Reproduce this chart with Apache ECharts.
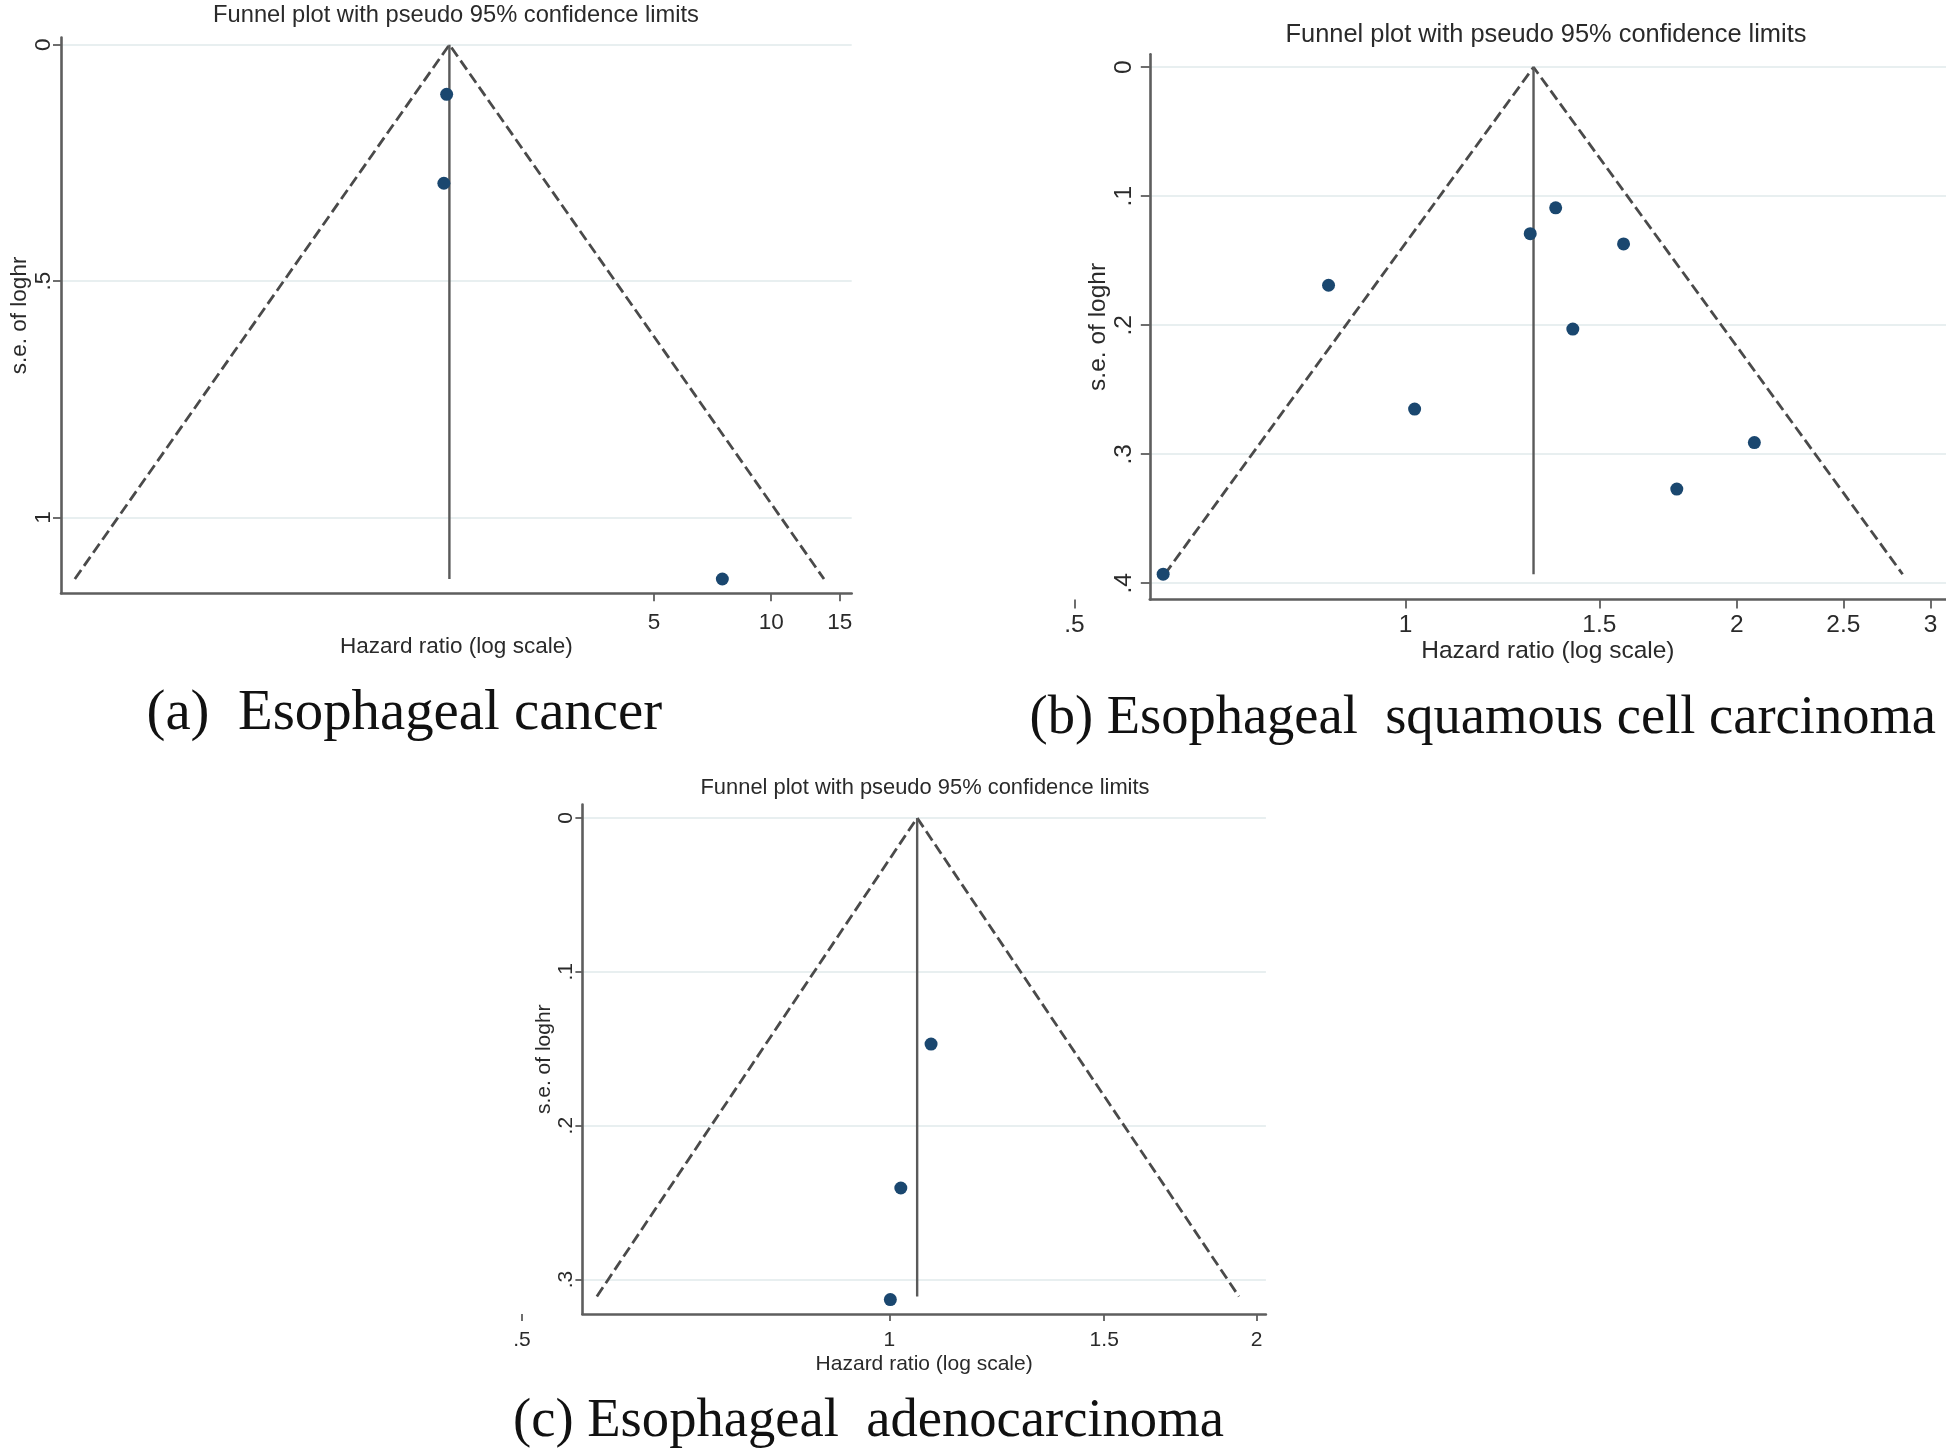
<!DOCTYPE html>
<html>
<head>
<meta charset="utf-8">
<script src="https://cdn.jsdelivr.net/npm/echarts@6/dist/echarts.min.js"></script>
<style>
html,body{margin:0;padding:0;background:#ffffff;}
#c{width:1946px;height:1455px;}
</style>
</head>
<body>
<div id="c"></div>
<script>
// ---------- Data ----------
// (a) Esophageal cancer
const aHR = [1.468, 1.444, 7.49];
const aSE = [0.105, 0.293, 1.13];
const aPooledHR = 1.492;
const aFunnelHR = [0.163, 1.492, 13.66];
const aFunnelSE = [1.13, 0, 1.13];
const aXTicks = [5, 10, 15];
const aYTicks = [0, 0.5, 1];

// (b) Esophageal squamous cell carcinoma
const bHR = [0.602, 0.851, 1.019, 1.298, 1.369, 1.578, 1.419, 2.075, 1.764];
const bSE = [0.393, 0.169, 0.265, 0.129, 0.109, 0.137, 0.203, 0.291, 0.327];
const bPooledHR = 1.307;
const bFunnelHR = [0.604, 1.307, 2.83];
const bFunnelSE = [0.393, 0, 0.393];
const bXTicks = [1, 1.5, 2, 2.5, 3];
const bXOuterTicks = [0.5];
const bYTicks = [0, 0.1, 0.2, 0.3, 0.4];

// (c) Esophageal adenocarcinoma
const cHR = [1.082, 1.022, 1.002];
const cSE = [0.147, 0.2405, 0.313];
const cPooledHR = 1.054;
const cFunnelHR = [0.576, 1.054, 1.934];
const cFunnelSE = [0.311, 0, 0.311];
const cXTicks = [1, 1.5, 2];
const cXOuterTicks = [0.5];
const cYTicks = [0, 0.1, 0.2, 0.3];

const plotTitle = 'Funnel plot with pseudo 95% confidence limits';
const xName = 'Hazard ratio (log scale)';
const yName = 's.e. of loghr';
const captions = ['(a)  Esophageal cancer', '(b) Esophageal  squamous cell carcinoma', '(c) Esophageal  adenocarcinoma'];

// ---------- Styles ----------
const SANS = '"Liberation Sans", Arial, sans-serif';
const SERIF = '"Liberation Serif", "Times New Roman", serif';
const TXT = '#2a2a2a';
const AXIS = '#5e5e5e';
const GRIDC = '#e8eff0';
const NAVY = '#1a476f';

function fmt(v) {
  const s = String(+(+v).toFixed(3));
  return s.startsWith('0.') ? s.slice(1) : s;
}
function zip(xs, ys) { return xs.map((x, i) => [x, ys[i]]); }

function xAx(grid, min, max, ticks, o) {
  return {
    type: 'log', logBase: 10, gridIndex: grid, min: min, max: max, position: 'bottom',
    axisLine: { show: o.line !== false, onZero: false, lineStyle: { color: AXIS, width: 2.6 } },
    axisTick: { show: true, customValues: ticks, length: o.tick, lineStyle: { color: AXIS, width: 1.8 } },
    axisLabel: { show: true, customValues: ticks, formatter: fmt, margin: o.margin, fontSize: o.fs, color: TXT, fontFamily: SANS },
    splitLine: { show: false }, minorTick: { show: false }, minorSplitLine: { show: false },
    name: o.name || '', nameLocation: 'middle', nameGap: o.nameGap || 0,
    nameTextStyle: { fontSize: o.fs, color: TXT, fontFamily: SANS }
  };
}
function yAx(grid, min, max, ticks, o) {
  if (o.hidden) {
    return { type: 'value', gridIndex: grid, inverse: true, min: min, max: max, show: false };
  }
  return {
    type: 'value', gridIndex: grid, inverse: true, min: min, max: max, position: 'left',
    axisLine: { show: true, onZero: false, lineStyle: { color: AXIS, width: 2.6 } },
    axisTick: { show: true, customValues: ticks, length: o.tick, lineStyle: { color: AXIS, width: 1.8 } },
    axisLabel: { show: true, customValues: ticks, formatter: fmt, rotate: 90, margin: o.margin, fontSize: o.fs, color: TXT, fontFamily: SANS },
    splitLine: { show: true, lineStyle: { color: GRIDC, width: 2 } },
    name: yName, nameLocation: 'middle', nameGap: o.nameGap, nameRotate: 90,
    nameTextStyle: { fontSize: o.fs, color: TXT, fontFamily: SANS }
  };
}
function seriesSet(ax, hr, se, pooled, fHR, fSE) {
  return [
    { type: 'line', xAxisIndex: ax, yAxisIndex: ax, data: zip(fHR, fSE), symbol: 'none', silent: true,
      lineStyle: { color: '#4a4a4a', width: 2.8, type: [11, 5] }, z: 2 },
    { type: 'line', xAxisIndex: ax, yAxisIndex: ax, data: [[pooled, fSE[1]], [pooled, fSE[0]]], symbol: 'none', silent: true,
      lineStyle: { color: '#5a5a5a', width: 2.4, type: 'solid' }, z: 2 },
    { type: 'scatter', xAxisIndex: ax, yAxisIndex: ax, data: zip(hr, se), symbol: 'circle', symbolSize: 13,
      itemStyle: { color: NAVY, opacity: 1 }, z: 3 }
  ];
}

const grids = [
  { left: 61, top: 37.6, width: 790.7, height: 555.6 },      // a
  { left: 1149.8, top: 54.3, width: 796.2, height: 545.2 },  // b main
  { left: 1074.5, top: 54.3, width: 871.5, height: 545.2 },  // b outer (.5)
  { left: 582.4, top: 804.5, width: 683.5, height: 509.5 },  // c main
  { left: 521.9, top: 804.5, width: 744.0, height: 509.5 }   // c outer (.5)
];

const xAxes = [
  xAx(0, 0.1502, 16.09, aXTicks, { tick: 8, margin: 18, fs: 22.5, name: xName, nameGap: 41 }),
  xAx(1, 0.5854, 3.099, bXTicks, { tick: 9, margin: 13, fs: 24.5, name: xName, nameGap: 37 }),
  xAx(2, 0.5, 3.099, bXOuterTicks, { tick: 9, margin: 13, fs: 24.5, line: false }),
  xAx(3, 0.5605, 2.035, cXTicks, { tick: 7, margin: 16, fs: 21, name: xName, nameGap: 40 }),
  xAx(4, 0.5, 2.035, cXOuterTicks, { tick: 7, margin: 16, fs: 21, line: false })
];
const yAxes = [
  yAx(0, -0.015, 1.16, aYTicks, { tick: 8, margin: 6, fs: 22.5, nameGap: 23 }),
  yAx(1, -0.010, 0.4126, bYTicks, { tick: 9, margin: 13.5, fs: 24.5, nameGap: 30 }),
  yAx(2, -0.010, 0.4126, [], { hidden: true }),
  yAx(3, -0.0087, 0.3224, cYTicks, { tick: 7, margin: 6, fs: 21, nameGap: 28 }),
  yAx(4, -0.0087, 0.3224, [], { hidden: true })
];

const series = [].concat(
  seriesSet(0, aHR, aSE, aPooledHR, aFunnelHR, aFunnelSE),
  seriesSet(1, bHR, bSE, bPooledHR, bFunnelHR, bFunnelSE),
  seriesSet(3, cHR, cSE, cPooledHR, cFunnelHR, cFunnelSE)
);

function txt(text, x, y, size, family, align, color) {
  return { type: 'text', x: x, y: y, silent: true,
    style: { text: text, fontSize: size, fontFamily: family, fill: color,
      align: align, verticalAlign: 'middle', textAlign: align, textVerticalAlign: 'middle' } };
}

const graphics = [
  txt(plotTitle, 456, 15, 23.7, SANS, 'center', TXT),
  txt(plotTitle, 1546, 35, 25.4, SANS, 'center', TXT),
  txt(plotTitle, 925, 788, 21.9, SANS, 'center', TXT),
  txt(captions[0], 146.5, 714.5, 56.8, SERIF, 'left', '#111'),
  txt(captions[1], 1029.5, 718.5, 54.5, SERIF, 'left', '#111'),
  txt(captions[2], 513, 1422, 54.6, SERIF, 'left', '#111')
];

const chart = echarts.init(document.getElementById('c'), null, { renderer: 'canvas', width: 1946, height: 1455 });
chart.setOption({
  backgroundColor: '#ffffff',
  animation: false,
  grid: grids,
  xAxis: xAxes,
  yAxis: yAxes,
  series: series,
  graphic: graphics
});
</script>
</body>
</html>
